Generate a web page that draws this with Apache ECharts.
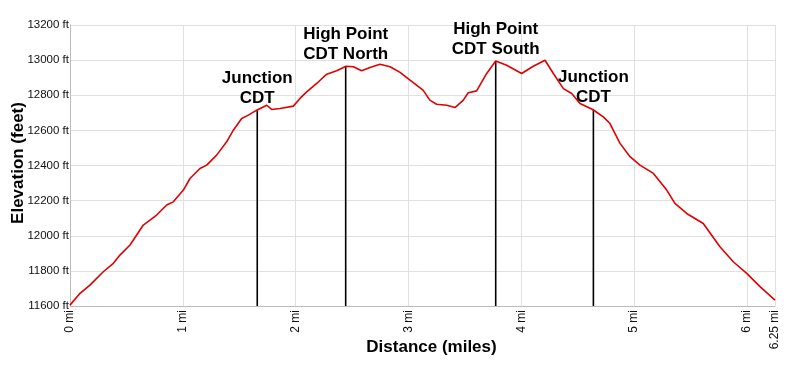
<!DOCTYPE html>
<html><head><meta charset="utf-8">
<script src="https://cdn.jsdelivr.net/npm/echarts@6/dist/echarts.min.js"></script>
<style>html,body{margin:0;padding:0;background:#fff}#c{width:800px;height:371px}</style>
</head><body><div id="c"></div>
<script>
// Distance (miles) and elevation (feet) of the profile
var distance = [0,0.089,0.177,0.295,0.384,0.443,0.532,0.65,0.768,0.857,0.916,1.005,1.064,1.152,1.212,1.3,1.389,1.448,1.522,1.581,1.655,1.744,1.788,1.862,1.98,2.039,2.098,2.187,2.276,2.364,2.447,2.512,2.586,2.66,2.748,2.837,2.926,3.014,3.13,3.19,3.25,3.34,3.413,3.487,3.53,3.605,3.694,3.774,3.871,4.004,4.107,4.211,4.285,4.374,4.448,4.521,4.634,4.728,4.787,4.876,4.965,5.053,5.172,5.29,5.363,5.467,5.614,5.762,5.88,5.999,6.117,6.25];
var elevation = [11605,11672,11719,11795,11843,11890,11947,12061,12118,12175,12193,12260,12326,12383,12402,12459,12535,12601,12668,12687,12715,12743,12719,12725,12738,12782,12819,12867,12920,12939,12965,12962,12939,12958,12977,12962,12930,12886,12829,12772,12749,12743,12730,12772,12814,12825,12924,12995,12971,12924,12965,12999,12924,12838,12810,12753,12719,12677,12639,12526,12450,12402,12355,12260,12184,12127,12070,11937,11852,11786,11710,11634];
// Waypoint markers
var markerDist = [1.66, 2.444, 3.774, 4.64];
var markerElev = [12715, 12965, 12995, 12719];
var markerText = ["Junction\nCDT", "High Point\nCDT North", "High Point\nCDT South", "Junction\nCDT"];
// Axis ticks
var xTicks = [0,1,2,3,4,5,6,6.25];
var yMin = 11600, yMax = 13200, yStep = 200;

var chart = echarts.init(document.getElementById('c'), null, {renderer:'canvas'});
var profile = distance.map(function(d,i){return [d, elevation[i]];});
var series = [{
  type:'line', data: profile, showSymbol:false, symbol:'none',
  lineStyle:{color:'#e00000', width:1.6}, z:3, animation:false
}];
markerDist.forEach(function(d,i){
  series.push({type:'line', data:[[d,yMin],[d,markerElev[i]]], symbol:'none', showSymbol:false,
    lineStyle:{color:'#000', width:1.6}, z:2, animation:false});
});
series.push({type:'scatter', symbolSize:0, animation:false, z:4, itemStyle:{opacity:1},
  data: markerDist.map(function(d,i){return {value:[d, markerElev[i]], label:{formatter: markerText[i]}};}),
  label:{show:true, position:'top', distance:2, fontFamily:'Arial, Liberation Sans', fontWeight:'bold', fontSize:17, lineHeight:20, color:'#000', opacity:1, align:'center'}
});

chart.setOption({
  backgroundColor:'#fff',
  animation:false,
  grid:{left:70, right:25, top:25, bottom:65, containLabel:false, outerBoundsMode:'none'},
  xAxis:{type:'value', min:0, max:6.25, interval:1,
    name:'Distance (miles)', nameLocation:'middle', nameGap:33, nameMoveOverlap:false,
    nameTextStyle:{fontFamily:'Arial, Liberation Sans', fontWeight:'bold', fontSize:17, color:'#000', padding:[0,0,0,18]},
    axisLine:{show:true, lineStyle:{color:'#bbb', width:1}},
    axisTick:{show:false},
    axisLabel:{customValues:xTicks, rotate:90, margin:4, fontFamily:'Arial, Liberation Sans', fontSize:12, color:'#111',
      formatter:function(v){return v + ' mi';}},
    splitLine:{show:true, lineStyle:{color:'#e0e0e0', width:1}}
  },
  yAxis:{type:'value', min:yMin, max:yMax, interval:yStep,
    name:'Elevation (feet)', nameLocation:'middle', nameGap:43, nameMoveOverlap:false,
    nameTextStyle:{fontFamily:'Arial, Liberation Sans', fontWeight:'bold', fontSize:17, color:'#000', padding:[0,0,0,5]},
    axisLine:{show:true, lineStyle:{color:'#bbb', width:1}},
    axisTick:{show:false},
    axisLabel:{margin:1, fontFamily:'Arial, Liberation Sans', fontSize:11.5, color:'#111',
      formatter:function(v){return v + ' ft';}},
    splitLine:{show:true, lineStyle:{color:'#e0e0e0', width:1}}
  },
  series: series
});
</script></body></html>
